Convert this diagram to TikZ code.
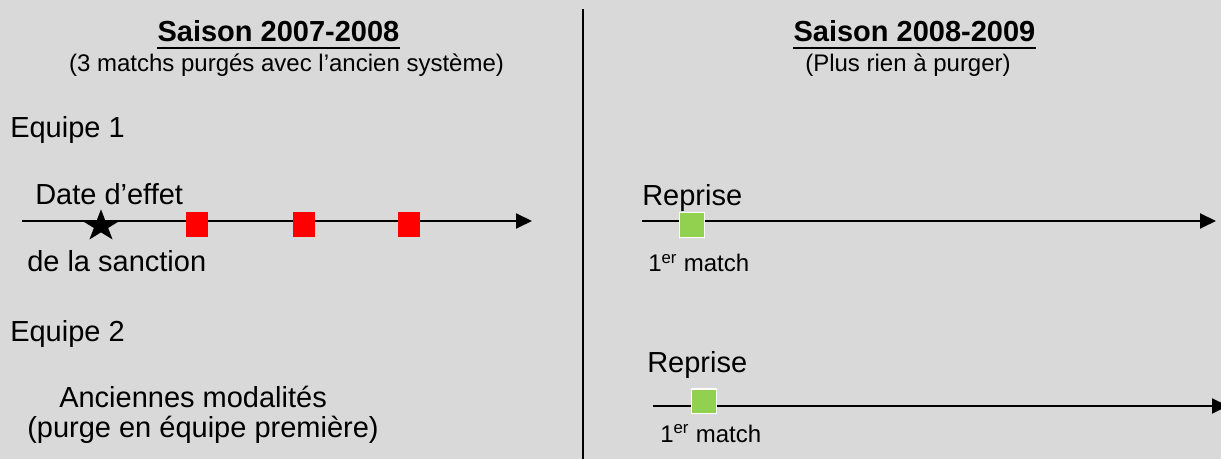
\documentclass[tikz,border=0pt]{standalone}
\usepackage{fontspec}
\setmainfont{Liberation Sans}
\usetikzlibrary{arrows.meta}
\usetikzlibrary{shapes.geometric}
\definecolor{bggray}{RGB}{217,217,217}
\definecolor{okgreen}{RGB}{146,208,80}
\definecolor{badred}{RGB}{255,0,0}

\begin{document}
\begin{tikzpicture}[x=0.75pt, y=-0.75pt,
	lbl/.style = {anchor=base west, inner sep=0pt, font=\fontsize{21.75}{26}\selectfont},
	small/.style = {anchor=base west, inner sep=0pt, font=\fontsize{18}{22}\selectfont},
	ttl/.style = {anchor=base, inner sep=0pt, font=\fontsize{21.75}{26}\selectfont\bfseries},
	sub/.style = {anchor=base, inner sep=0pt, font=\fontsize{18}{22}\selectfont},
	axis/.style = {line width=1.4pt, -{Triangle[length=12pt, width=11.25pt]}},
	redbox/.style = {fill=badred, inner sep=0pt, minimum width=16.5pt, minimum height=18.75pt},
	greenbox/.style = {fill=okgreen, draw=white, line width=1.1pt, inner sep=0pt, minimum size=18.4pt}]
			\fill[bggray] (0,0) rectangle (1221,459);
			\useasboundingbox (0,0) rectangle (1221,459);
			% headings
			\node (t1) at (278.5,42) [ttl] {Saison 2007-2008};
			\node (s1) at (286.5,72) [sub] {(3 matchs purgés avec l’ancien système)};
			\node (t2) at (914.5,42) [ttl] {Saison 2008-2009};
			\node (s2) at (908,72) [sub] {(Plus rien à purger)};
			\draw[line width=1.5pt] ([yshift=-4.5pt]t1.base west) -- ([yshift=-4.5pt]t1.base east);
			\draw[line width=1.5pt] ([yshift=-4.5pt]t2.base west) -- ([yshift=-4.5pt]t2.base east);
			% divider
			\coordinate (dtop) at (583,9);
			\coordinate (dbot) at (583,459);
			\draw[line width=1.5pt] (dtop) -- (dbot);
			% left side
			\node (eq1) at (10,138) [lbl] {Equipe 1};
			\node (date) at (35,205) [lbl] {Date d’effet};
			\node (sanc) at (27,272) [lbl] {de la sanction};
			\node (eq2) at (10,342) [lbl] {Equipe 2};
			\node (anc) at (59,408) [lbl] {Anciennes modalités};
			\node (purge) at (27,437) [lbl] {(purge en équipe première)};
			\coordinate (l1) at (22,221);
			\coordinate (r1) at (532,221);
			\draw[axis] (l1) -- (r1);
			\begin{scope}[shift={(101,226)}, xscale=1.18]
			\node (eff) at (0,0) [star, star points=5, star point ratio=2.618, fill=black, inner sep=0pt, minimum size=25pt, transform shape] {};
			\end{scope}
			\node (m1) at (197,224.5) [redbox] {};
			\node (m2) at (303.5,224.5) [redbox] {};
			\node (m3) at (409,224.5) [redbox] {};
			% right side
			\node (rep1) at (642,206) [lbl] {Reprise};
			\node (first1) at (648,272) [small] {1\textsuperscript{er} match};
			\coordinate (l2) at (642,221);
			\coordinate (r2) at (1216,221);
			\draw[axis] (l2) -- (r2);
			\node (g1) at (692,225) [greenbox] {};
			\node (rep2) at (647,373) [lbl] {Reprise};
			\node (first2) at (660,442) [small] {1\textsuperscript{er} match};
			\coordinate (l3) at (653,406);
			\coordinate (r3) at (1228,406);
			\draw[axis] (l3) -- (r3);
			\node (g2) at (704,401.5) [greenbox] {};
\end{tikzpicture}
\end{document}
